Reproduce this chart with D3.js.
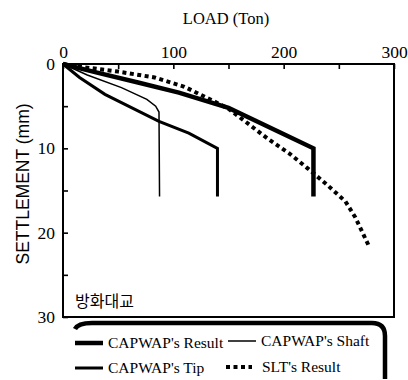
<!DOCTYPE html>
<html>
<head>
<meta charset="utf-8">
<script src="https://cdn.jsdelivr.net/npm/d3@7"></script>
<style>
  body { margin: 0; background: #fff; }
  svg { display: block; }
</style>
</head>
<body>
<svg width="408" height="380"></svg>
<script>
// values: [load (Ton), settlement (mm)]
const resultPts = [[0, 0], [30, 1.0], [68, 2.2], [105, 3.4], [150, 5.2], [166, 6.2], [195, 8.0], [227, 10.0], [227, 15.7]];
const shaftPts = [[0, 0], [22, 1.3], [53, 2.8], [76, 4.2], [84, 5.0], [87, 5.7], [87.5, 15.7]];
const tipPts = [[0, 0], [15, 1.6], [38, 3.6], [87, 6.8], [114, 8.2], [140, 10.0], [140, 15.7]];
const sltPts = [[0, 0], [20, 0.4], [50, 0.9], [83, 1.6], [110, 2.7], [135, 4.3], [150, 5.3], [165, 6.8], [186, 8.9], [205, 10.6], [222, 12.4], [240, 14.4], [256, 16.3], [265, 18.2], [278, 21.8]];

const xTicks = [0, 50, 100, 150, 200, 250, 300];
const yTicks = [0, 5, 10, 15, 20, 25, 30];

const SERIF = "Liberation Serif";

const svg = d3.select("svg");

const x = d3.scaleLinear().domain([0, 300]).range([63, 394]);
const y = d3.scaleLinear().domain([0, 30]).range([64, 317]);

// top axis
const xAxis = svg.append("g")
  .attr("transform", `translate(0, ${y(0)})`)
  .call(d3.axisTop(x).tickValues(xTicks).tickSizeInner(-5).tickSizeOuter(0).tickPadding(6)
    .tickFormat((d) => (d % 100 === 0 ? d : "")));

// left axis
const yAxis = svg.append("g")
  .attr("transform", `translate(${x(0)}, 0)`)
  .call(d3.axisLeft(y).tickValues(yTicks).tickSizeInner(-5).tickSizeOuter(0).tickPadding(8)
    .tickFormat((d) => (d % 10 === 0 ? d : "")));

[xAxis, yAxis].forEach((g) => {
  g.attr("font-family", null).attr("font-size", null);
  g.select(".domain").remove();
  g.selectAll("line").attr("stroke", "#000").attr("stroke-width", 1.6);
  g.selectAll("text")
    .style("font-family", SERIF)
    .style("font-size", "17.5px")
    .attr("fill", "#000");
});

// frame
svg.append("rect")
  .attr("x", x(0)).attr("y", y(0))
  .attr("width", x(300) - x(0)).attr("height", y(30) - y(0))
  .attr("fill", "none").attr("stroke", "#000").attr("stroke-width", 2);

svg.append("text")
  .attr("x", 226).attr("y", 24)
  .attr("text-anchor", "middle")
  .style("font-family", SERIF)
  .style("font-size", "16.5px")
  .text("LOAD (Ton)");

svg.append("text")
  .attr("transform", "translate(28.5, 184) rotate(-90)")
  .attr("text-anchor", "middle")
  .style("font-family", "Liberation Sans")
  .style("font-size", "17.5px")
  .text("SETTLEMENT (mm)");

svg.append("text")
  .attr("x", 75).attr("y", 307)
  .style("font-family", "Noto Sans CJK KR")
  .style("font-size", "16px")
  .text("방화대교");

// curves
const line = d3.line().x((d) => x(d[0])).y((d) => y(d[1]));

const series = [
  { pts: shaftPts, width: 1.5, dash: null },
  { pts: tipPts, width: 3, dash: null },
  { pts: resultPts, width: 4.5, dash: null },
  { pts: sltPts, width: 4, dash: "4 3.5" }
];

svg.selectAll("path.curve")
  .data(series)
  .enter()
  .append("path")
  .attr("class", "curve")
  .attr("d", (d) => line(d.pts))
  .attr("fill", "none")
  .attr("stroke", "#000")
  .attr("stroke-width", (d) => d.width)
  .attr("stroke-dasharray", (d) => d.dash)
  .attr("stroke-linejoin", "miter");

// legend frame
svg.append("path")
  .attr("d", "M75,329 Q78,323 92,323 L372,323 Q385,323 385,336 L385,379")
  .attr("fill", "none")
  .attr("stroke", "#000")
  .attr("stroke-width", 4.5);

const legendItems = [
  { label: "CAPWAP's Result", width: 4.5, dash: null, lx: 75, ly: 343 },
  { label: "CAPWAP's Shaft", width: 1.5, dash: null, lx: 228, ly: 341 },
  { label: "CAPWAP's Tip", width: 3, dash: null, lx: 75, ly: 368 },
  { label: "SLT's Result", width: 4, dash: "4 3.5", lx: 226, ly: 367 }
];

const legend = svg.append("g")
  .selectAll("g")
  .data(legendItems)
  .enter()
  .append("g");

legend.append("line")
  .attr("x1", (d) => d.lx)
  .attr("x2", (d) => d.lx + (d.dash ? 26 : 28))
  .attr("y1", (d) => d.ly)
  .attr("y2", (d) => d.ly)
  .attr("stroke", "#000")
  .attr("stroke-width", (d) => d.width)
  .attr("stroke-dasharray", (d) => d.dash);

legend.append("text")
  .attr("x", (d) => d.lx + (d.dash ? 36 : 33))
  .attr("y", (d) => d.ly + 5)
  .style("font-family", SERIF)
  .style("font-size", "15.5px")
  .text((d) => d.label);
</script>
</body>
</html>
